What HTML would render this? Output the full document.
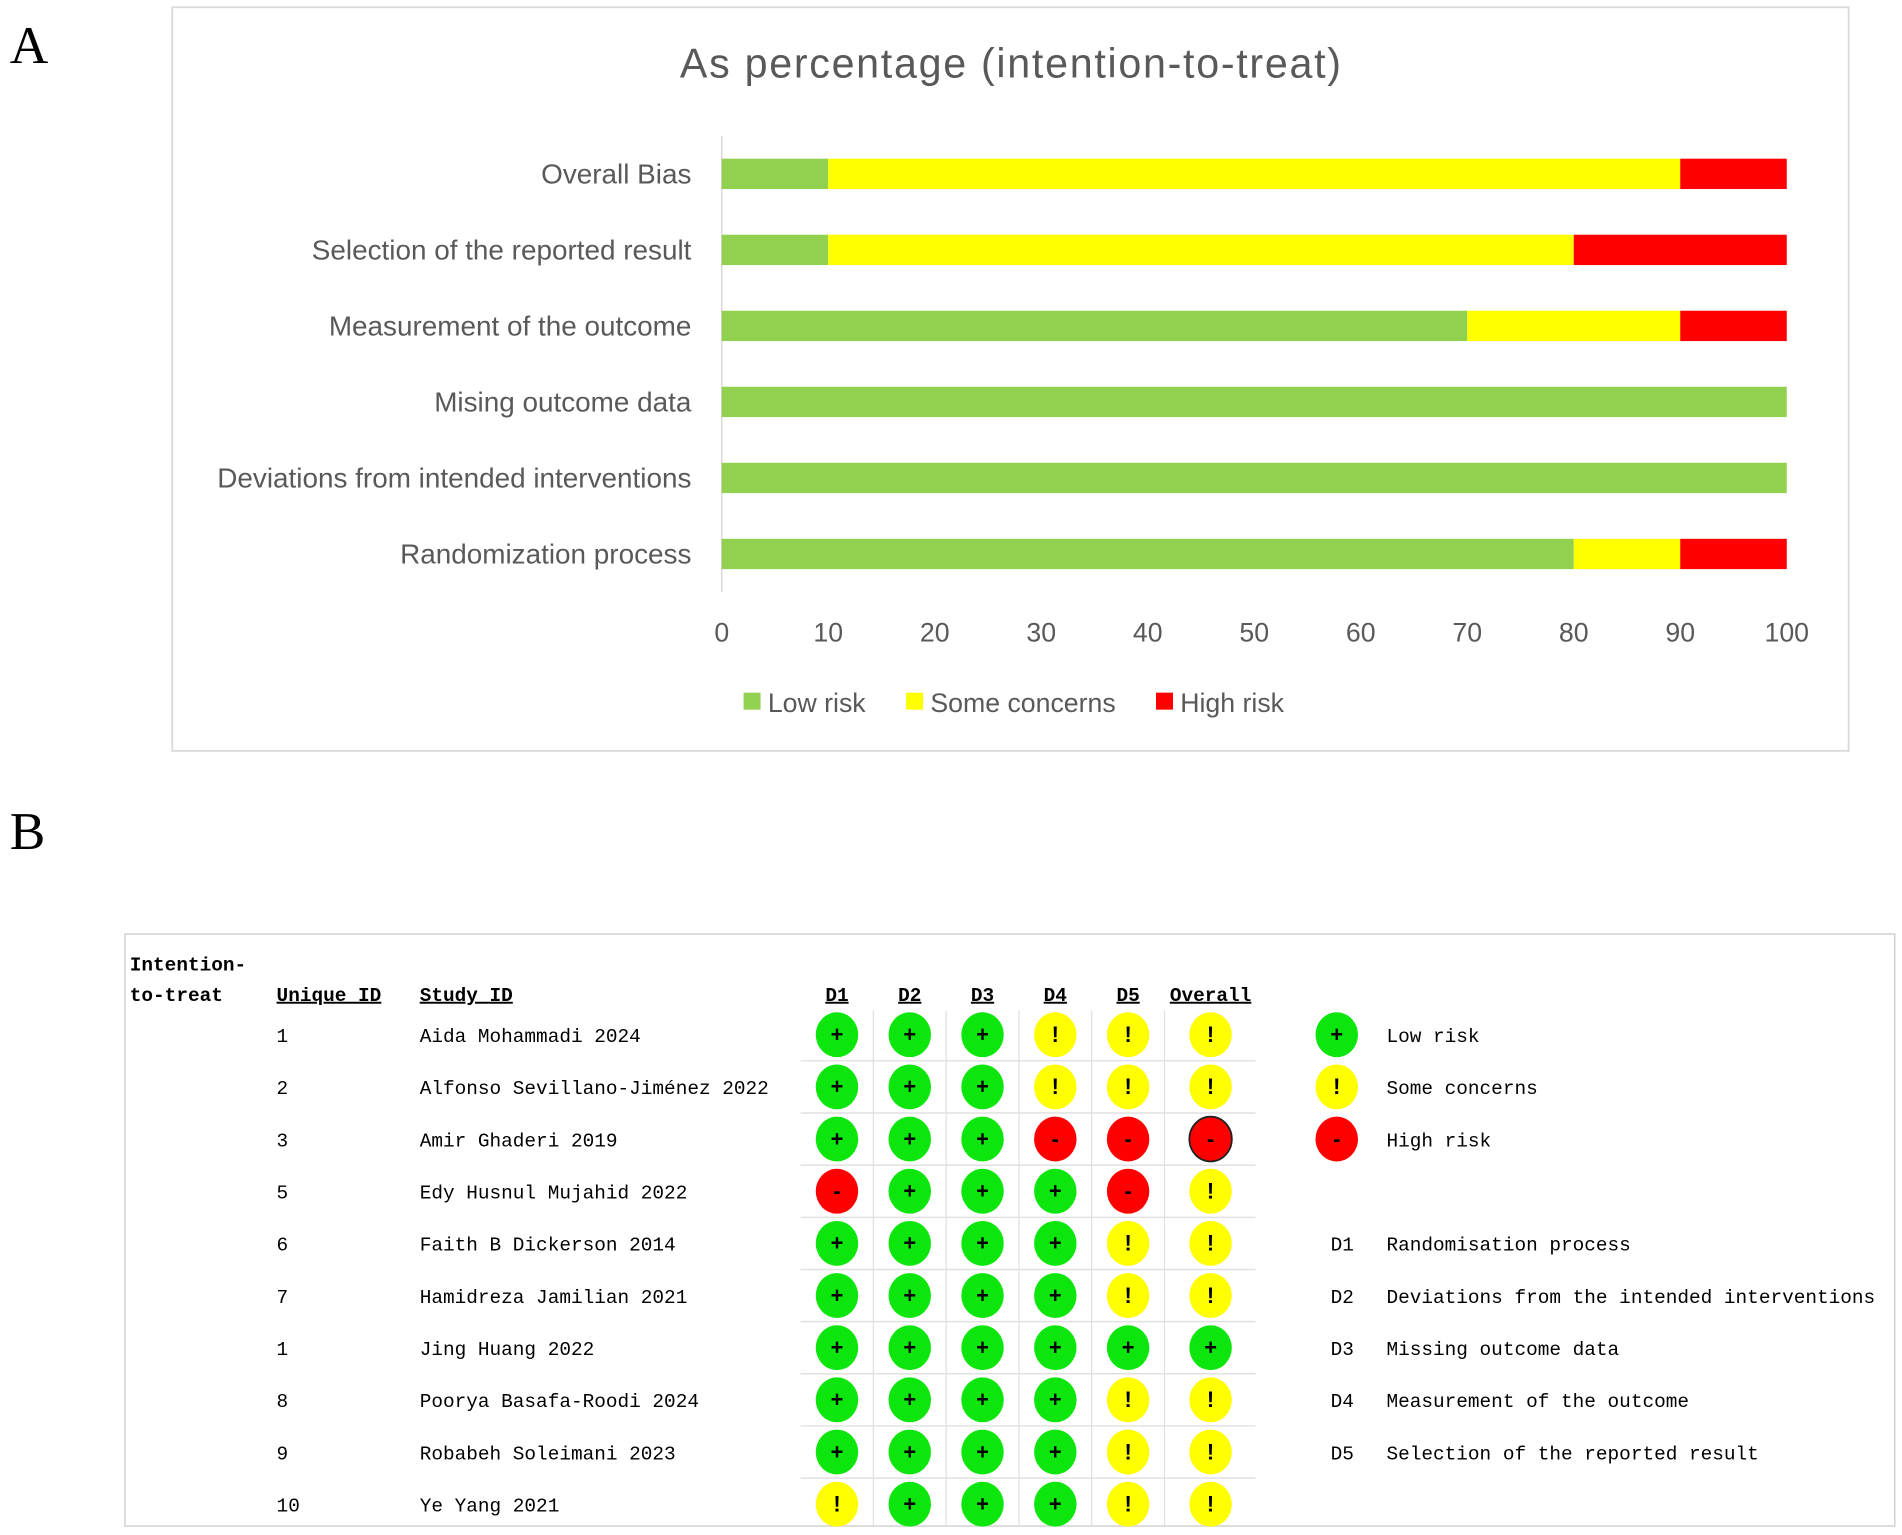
<!DOCTYPE html>
<html><head><meta charset="utf-8"><style>
html,body{margin:0;padding:0;background:#fff;width:1902px;height:1535px;overflow:hidden}
svg{display:block}
</style></head><body>
<svg id="fig" width="1902" height="1535" viewBox="0 0 1568 1265.4" preserveAspectRatio="none" xmlns="http://www.w3.org/2000/svg">
<text x="8" y="52" font-family="Liberation Serif, serif" font-size="44">A</text>
<rect x="142" y="6" width="1382" height="613" fill="#fff" stroke="#d9d9d9" stroke-width="1.5"/>
<text x="833" y="64" text-anchor="middle" font-family="Liberation Sans, sans-serif" font-size="34" fill="#595959" textLength="545">As percentage (intention-to-treat)</text>
<g id="chartA"></g>
<text x="8" y="700" font-family="Liberation Serif, serif" font-size="44">B</text>
<rect x="103" y="770" width="1459" height="488" fill="#fff" stroke="#d0d0d0" stroke-width="1.2"/>
<g id="tableB" font-family="Liberation Mono, monospace" font-size="16"></g>
</svg>
<script>
const categories = ["Overall Bias","Selection of the reported result","Measurement of the outcome","Mising outcome data","Deviations from intended interventions","Randomization process"];
const lowRisk = [10,10,70,100,100,80];
const someConcerns = [80,70,20,0,0,10];
const highRisk = [10,20,10,0,0,10];
const xTicks = [0,10,20,30,40,50,60,70,80,90,100];

const studyIds = ["1","2","3","5","6","7","1","8","9","10"];
const studyNames = ["Aida Mohammadi 2024","Alfonso Sevillano-Jiménez 2022","Amir Ghaderi 2019","Edy Husnul Mujahid 2022","Faith B Dickerson 2014","Hamidreza Jamilian 2021","Jing Huang 2022","Poorya Basafa-Roodi 2024","Robabeh Soleimani 2023","Ye Yang 2021"];
const d1 = ["+","+","+","-","+","+","+","+","+","!"];
const d2 = ["+","+","+","+","+","+","+","+","+","+"];
const d3 = ["+","+","+","+","+","+","+","+","+","+"];
const d4 = ["!","!","-","+","+","+","+","+","+","+"];
const d5 = ["!","!","-","-","!","!","+","!","!","!"];
const overall = ["!","!","-","!","!","!","+","!","!","!"];
const domainLabels = ["D1","D2","D3","D4","D5","Overall"];

const NS="http://www.w3.org/2000/svg";
function mk(tag, attrs, parent, txt){const e=document.createElementNS(NS,tag);for(const k in attrs)e.setAttribute(k,attrs[k]);if(txt!==undefined)e.textContent=txt;parent.appendChild(e);return e;}

// Chart A
const gA=document.getElementById('chartA');
const x0=595, x1=1473, yTop=112, yBot=488;
const xs=v=>x0+(x1-x0)*v/100;
const band=(yBot-yTop)/categories.length;
const yc=i=>yTop+band*(i+0.5);
const axis=mk('line',{x1:x0,y1:yTop,x2:x0,y2:yBot,stroke:'#d9d9d9','stroke-width':1.2},gA);


const cols=['#92d050','#ffff00','#ff0000'];
const series=[lowRisk,someConcerns,highRisk];
const sNames=['low','some','high'];
categories.forEach((c,i)=>{
  const t=mk('text',{x:570,y:yc(i)+8,'text-anchor':'end','font-family':'Liberation Sans, sans-serif','font-size':23,fill:'#595959'},gA,c);
  
  
  let acc=0;
  series.forEach((s,k)=>{
    if(s[i]>0){
      const r=mk('rect',{x:xs(acc),y:yc(i)-12.5,width:xs(acc+s[i])-xs(acc),height:25,fill:cols[k]},gA);
      
      
    }
    acc+=s[i];
  });
});
xTicks.forEach(v=>{
  const t=mk('text',{x:xs(v),y:529,'text-anchor':'middle','font-family':'Liberation Sans, sans-serif','font-size':22,fill:'#595959'},gA,String(v));
  
  
});
const legA=[['Low risk',613],['Some concerns',747],['High risk',953]];
legA.forEach((l,k)=>{
  const r=mk('rect',{x:l[1],y:571,width:14,height:14,fill:cols[k]},gA);
  
  
  const t=mk('text',{x:l[1]+20,y:587,'font-family':'Liberation Sans, sans-serif','font-size':22,fill:'#595959'},gA,l[0]);
  
  
});

// Table B
const gB=document.getElementById('tableB');
const colX=[690,750,810,870,930,998];
const rowY=i=>853+43*i;
const hdr=[['Intention-',107,800],['to-treat',107,825]];
hdr.forEach(h=>{const t=mk('text',{x:h[1],y:h[2],'font-weight':'bold'},gB,h[0]);
  
  });
const heads=[['Unique ID',228,'start'],['Study ID',346,'start']];
heads.forEach(h=>{const t=mk('text',{x:h[1],y:825,'font-weight':'bold','text-decoration':'underline'},gB,h[0]);
  
  });
domainLabels.forEach((d,j)=>{const t=mk('text',{x:colX[j],y:825,'font-weight':'bold','text-decoration':'underline','text-anchor':'middle'},gB,d);
  
  });
[720,780,840,900,960].forEach(x=>{const l=mk('line',{x1:x,y1:833,x2:x,y2:1258,stroke:'#e0e0e0','stroke-width':1},gB);
  
  });
for(let i=0;i<studyNames.length-1;i++){const l=mk('line',{x1:660,y1:rowY(i)+21.5,x2:1035,y2:rowY(i)+21.5,stroke:'#e0e0e0','stroke-width':1.2},gB);
  
  }
const fillOf={'+':'#0de60d','!':'#ffff00','-':'#ff0000'};
function judg(cx,cy,j,parent,border){
  const c=mk('ellipse',{cx:cx,cy:cy,rx:17.5,ry:18.5,fill:fillOf[j],stroke:border?'#222':'none','stroke-width':border?1.5:0},parent);
  
  
  const t=mk('text',{x:cx,y:cy+6,'text-anchor':'middle','font-weight':'bold','font-size':18,'font-family':'Liberation Sans, sans-serif'},parent,j);
  
  
}
const domains=[d1,d2,d3,d4,d5,overall];
studyNames.forEach((n,i)=>{
  const y=rowY(i);
  const a=mk('text',{x:228,y:y+6},gB,studyIds[i]);
  
  
  const b=mk('text',{x:346,y:y+6},gB,n);
  
  
  domains.forEach((d,j)=>judg(colX[j],y,d[i],gB,j===5&&d[i]==='-'));
});
const legB=[['+','Low risk'],['!','Some concerns'],['-','High risk']];
legB.forEach((l,k)=>{
  judg(1102,rowY(k),l[0],gB,false);
  const t=mk('text',{x:1143,y:rowY(k)+6},gB,l[1]);
  
  
});
const domDesc=["Randomisation process","Deviations from the intended interventions","Missing outcome data","Measurement of the outcome","Selection of the reported result"];
domDesc.forEach((d,k)=>{
  const y=rowY(k+4)+6;
  const a=mk('text',{x:1097,y:y},gB,'D'+(k+1));
  
  
  const b=mk('text',{x:1143,y:y},gB,d);
  
  
});
</script>
</body></html>
